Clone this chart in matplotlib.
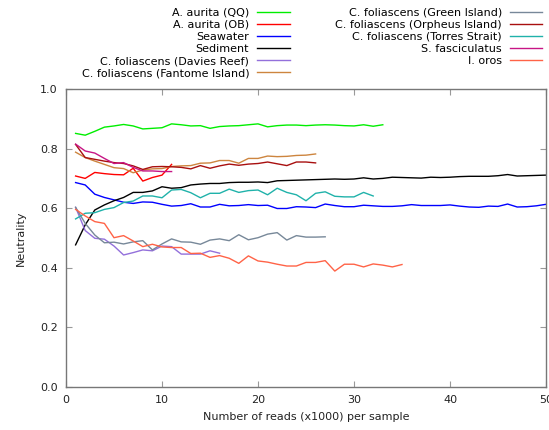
import matplotlib
matplotlib.use("Agg")
import matplotlib.pyplot as plt

qq = [0.851,0.845,0.858,0.872,0.876,0.881,0.876,0.866,0.868,0.870,0.883,0.880,0.876,0.877,0.868,0.874,0.876,0.877,0.880,0.883,0.873,0.877,0.879,0.879,0.877,0.879,0.880,0.879,0.877,0.876,0.880,0.875,0.880]
ob = [0.708,0.700,0.720,0.716,0.713,0.712,0.734,0.691,0.703,0.711,0.747]
seawater = [0.686,0.678,0.647,0.636,0.628,0.620,0.616,0.621,0.620,0.613,0.607,0.609,0.615,0.604,0.604,0.613,0.608,0.609,0.612,0.609,0.610,0.599,0.599,0.605,0.604,0.602,0.614,0.609,0.605,0.605,0.610,0.608,0.606,0.606,0.608,0.612,0.609,0.609,0.609,0.611,0.607,0.604,0.603,0.607,0.606,0.614,0.604,0.605,0.608,0.613]
sediment = [0.477,0.544,0.594,0.611,0.625,0.636,0.653,0.653,0.658,0.672,0.667,0.669,0.678,0.681,0.683,0.683,0.686,0.687,0.687,0.688,0.686,0.692,0.693,0.694,0.695,0.696,0.697,0.698,0.697,0.698,0.702,0.698,0.700,0.704,0.703,0.702,0.701,0.704,0.703,0.704,0.706,0.707,0.707,0.707,0.709,0.713,0.708,0.709,0.710,0.711]
davies = [0.603,0.525,0.499,0.496,0.473,0.443,0.451,0.460,0.457,0.473,0.471,0.446,0.446,0.446,0.457,0.449]
fantome = [0.788,0.770,0.758,0.747,0.736,0.733,0.719,0.728,0.732,0.733,0.740,0.742,0.743,0.751,0.752,0.760,0.760,0.751,0.767,0.767,0.775,0.773,0.774,0.777,0.778,0.782]
green_isl = [0.603,0.549,0.510,0.484,0.486,0.480,0.487,0.491,0.460,0.480,0.497,0.487,0.486,0.479,0.493,0.497,0.491,0.511,0.494,0.501,0.513,0.518,0.493,0.508,0.503,0.503,0.504]
orpheus = [0.814,0.770,0.764,0.758,0.753,0.750,0.742,0.730,0.739,0.740,0.739,0.737,0.732,0.743,0.734,0.742,0.748,0.744,0.748,0.750,0.755,0.749,0.743,0.755,0.755,0.752]
torres = [0.564,0.583,0.585,0.596,0.602,0.619,0.624,0.641,0.641,0.635,0.661,0.663,0.652,0.635,0.650,0.650,0.664,0.653,0.659,0.661,0.645,0.667,0.653,0.645,0.625,0.650,0.655,0.640,0.638,0.638,0.653,0.641]
fascic = [0.815,0.792,0.785,0.767,0.750,0.753,0.737,0.725,0.725,0.723,0.723]
oros = [0.596,0.574,0.555,0.549,0.501,0.508,0.490,0.471,0.479,0.470,0.468,0.468,0.448,0.449,0.435,0.441,0.432,0.415,0.440,0.423,0.419,0.412,0.406,0.406,0.418,0.418,0.424,0.389,0.412,0.412,0.403,0.413,0.409,0.403,0.411]

labels = ["A. aurita (QQ)", "A. aurita (OB)", "Seawater", "Sediment",
          "C. foliascens (Davies Reef)", "C. foliascens (Fantome Island)",
          "C. foliascens (Green Island)", "C. foliascens (Orpheus Island)",
          "C. foliascens (Torres Strait)", "S. fasciculatus", "I. oros"]
series = [qq, ob, seawater, sediment, davies, fantome, green_isl, orpheus, torres, fascic, oros]
colors = ["#00ee00", "#ff0000", "#0000ff", "#000000", "mediumpurple", "peru",
          "lightslategray", "#a80f0f", "lightseagreen", "mediumvioletred", "tomato"]

plt.rcParams['font.family'] = ['DejaVu Sans']
plt.rcParams['font.size'] = 8

fig = plt.figure(figsize=(5.49, 4.30), dpi=100)
ax = fig.add_axes([66/549, 1-387/430, (546-66)/549, (387-89)/430])

for vals, lab, c in zip(series, labels, colors):
    xs = list(range(1, len(vals)+1))
    ax.plot(xs, vals, color=c, lw=1.0, label=lab)

ax.set_xlim(0, 50)
ax.set_ylim(0, 1.0)
ax.set_xticks([0, 10, 20, 30, 40, 50])
ax.set_yticks([0, 0.2, 0.4, 0.6, 0.8, 1.0])
ax.set_yticklabels(["0.0", "0.2", "0.4", "0.6", "0.8", "1.0"])
ax.tick_params(direction='in', length=4, color='#999999', top=True, right=True,
               labelcolor='#222222', pad=6)
for s in ax.spines.values():
    s.set_color('#777777')
    s.set_linewidth(1.0)
ax.set_xlabel("Number of reads (x1000) per sample", color='#222222', labelpad=5)
ax.set_ylabel("Neutrality", color='#222222', labelpad=10)

fig.legend(loc='upper right', bbox_to_anchor=(548/549, 1-2/430), ncol=2,
           frameon=False, markerfirst=False, borderpad=0, labelspacing=0.19,
           handlelength=2.9, handletextpad=0.75, columnspacing=4.1,
           fontsize=8)

fig.savefig("out.png", dpi=100)
